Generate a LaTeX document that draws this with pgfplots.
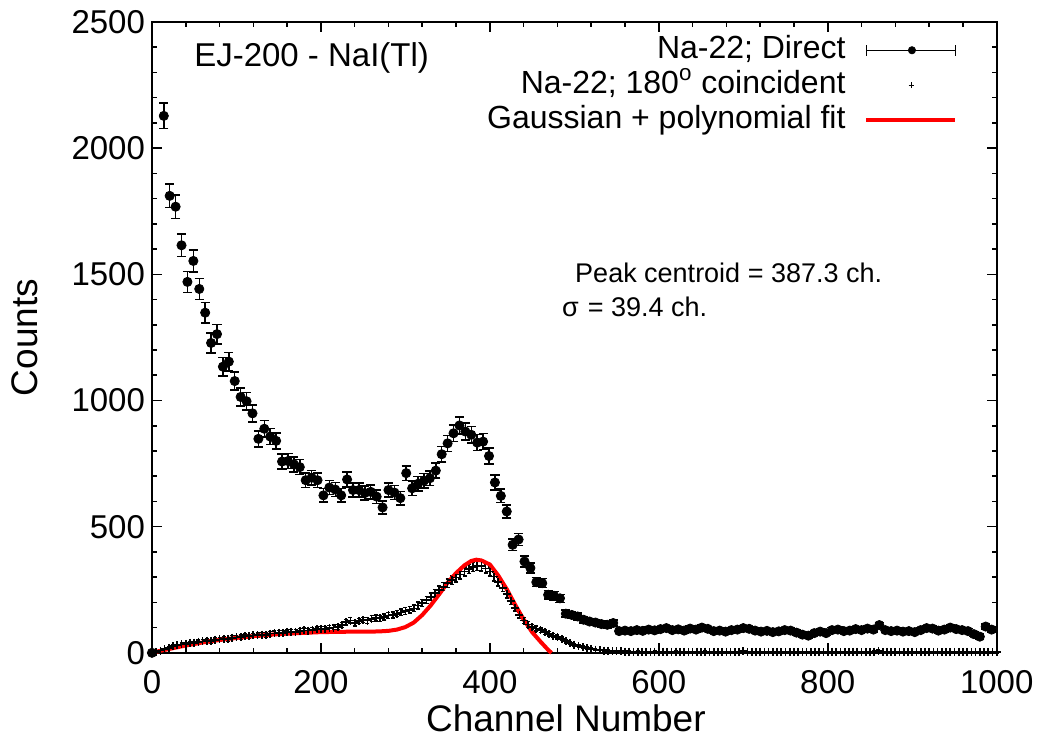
\documentclass[border=0pt]{standalone}
\usepackage{fontspec}
\setmainfont{Liberation Sans}
\usepackage{pgfplots}
\pgfplotsset{compat=1.18}
\usepackage{pgfplotstable}

\pgfplotstableread{
x y e
0 0 0
14 2128 51
21 1811 47
28 1768 46
35 1615 44
42 1470 42
49 1553 43
56 1442 42
63 1348 40
70 1228 39
77 1263 39
84 1134 37
91 1154 37
98 1077 36
105 1014 35
112 997 35
119 949 34
126 848 32
133 888 33
140 857 32
147 840 32
154 758 30
161 760 30
168 747 30
175 736 30
182 684 29
189 694 29
196 684 29
203 624 27
210 655 28
217 647 28
224 624 27
231 687 29
238 645 28
245 645 28
252 633 28
259 638 28
266 619 27
273 576 26
280 645 28
287 635 28
294 613 27
301 712 29
308 652 28
315 670 28
322 682 29
329 692 29
336 722 30
343 787 31
350 830 32
357 870 32
364 901 33
371 877 33
378 864 32
385 833 32
392 837 32
399 780 31
406 675 29
413 622 27
420 560 26
427 428 23
434 449 23
441 362 21
448 336 20
455 280 18
462 276 18
469 230 17
476 226 17
483 216 16
490 155 14
497 150 13
504 144 13
511 131 13
518 124 12
525 120 12
532 114 12
539 111 12
546 118 12
553 86 10
560 88 10
567 86 10
574 90 10
581 87 10
588 92 10
595 89 10
602 94 10
609 98 10
616 90 10
623 93 10
630 88 10
637 96 10
644 92 10
651 100 10
658 95 10
665 86 10
672 88 10
679 84 10
686 90 10
693 92 10
700 98 10
707 95 10
714 88 10
721 84 10
728 87 10
735 82 10
742 85 10
749 90 10
756 88 10
763 80 10
770 72 10
777 68 10
784 78 10
791 84 10
798 78 10
805 90 10
812 92 10
819 86 10
826 88 10
833 94 10
840 90 10
847 96 10
854 92 10
861 110 10
868 90 10
875 86 10
882 88 10
889 84 10
896 86 10
903 82 10
910 90 10
917 98 10
924 96 10
931 88 10
938 92 10
945 100 10
952 94 10
959 90 10
966 86 10
973 74 10
980 64 10
987 104 10
994 92 10
}\direct

\pgfplotstableread{
x y e
0 0 0
5 4 2
10 9 3
15 14 4
20 20 4
25 26 5
30 29 5
35 33 6
40 35 6
45 39 6
50 40 6
55 44 7
60 45 7
65 48 7
70 46 7
75 52 7
80 53 7
85 55 7
90 54 7
95 60 8
100 61 8
105 62 8
110 66 8
115 65 8
120 69 8
125 70 8
130 72 8
135 70 8
140 76 9
145 77 9
150 80 9
155 79 9
160 82 9
165 84 9
170 83 9
175 87 9
180 89 9
185 88 9
190 91 10
195 93 10
200 95 10
205 94 10
210 98 10
215 100 10
220 103 10
225 110 10
230 122 11
235 128 11
240 118 11
245 126 11
250 130 11
255 128 11
260 135 12
265 138 12
270 136 12
275 142 12
280 148 12
285 150 12
290 155 12
295 160 13
300 166 13
305 170 13
310 176 13
315 188 14
320 198 14
325 210 14
330 222 15
335 236 15
340 248 16
345 262 16
350 276 17
355 288 17
360 298 17
365 310 18
370 322 18
375 332 18
380 340 18
385 345 19
390 343 19
395 334 18
400 322 18
405 302 17
410 282 17
415 258 16
420 232 15
425 205 14
430 178 13
435 150 12
440 128 11
445 112 11
450 102 10
455 96 10
460 90 9
465 82 9
470 75 9
475 68 8
480 62 8
485 55 7
490 46 7
495 38 6
500 32 6
505 27 5
510 22 5
515 19 4
520 16 4
525 13 4
530 11 3
535 9 3
540 8 3
545 7 3
550 6 2
555 6 2
560 5 2
565 5 2
570 4 2
575 5 2
580 4 2
585 3 2
590 4 2
595 5 2
600 3 2
605 4 2
610 3 2
615 4 2
620 5 2
625 3 2
630 4 2
635 3 2
640 2 2
645 4 2
650 3 2
655 5 2
660 3 2
665 4 2
670 2 2
675 3 2
680 4 2
685 3 2
690 2 2
695 4 2
700 6 2
705 3 2
710 2 2
715 3 2
720 4 2
725 3 2
730 2 2
735 3 2
740 4 2
745 3 2
750 2 2
755 3 2
760 4 2
765 2 2
770 3 2
775 2 2
780 3 2
785 4 2
790 3 2
795 2 2
800 3 2
805 4 2
810 2 2
815 3 2
820 2 2
825 3 2
830 4 2
835 2 2
840 3 2
845 2 2
850 3 2
855 5 2
860 8 3
865 3 2
870 2 2
875 3 2
880 2 2
885 4 2
890 3 2
895 2 2
900 3 2
905 2 2
910 3 2
915 4 2
920 2 2
925 3 2
930 2 2
935 3 2
940 2 2
945 3 2
950 4 2
955 2 2
960 3 2
965 2 2
970 3 2
975 4 2
980 2 2
985 3 2
990 2 2
995 3 2
1000 2 2
}\coinc

\pgfplotstableread{
x y
0 0
10 8
20 15
30 22
40 29
50 35
60 41
70 46
80 51
90 55
100 59
120 66
140 72
160 76
180 79
200 82
220 83
240 84
260 84
270 85
280 87
290 92
300 102
310 120
320 150
330 188
340 232
350 278
360 316
370 347
378 364
384 369
390 366
400 350
410 306
420 252
430 190
440 132
450 82
460 44
470 8
473 0
}\fit

\begin{document}
\begin{tikzpicture}
\begin{axis}[
  name=ax,
  scale only axis,
  width=422.5bp, height=315.5bp,
  xmin=0, xmax=1000, ymin=0, ymax=2500,
  xtick={0,200,...,1000}, ytick={0,500,...,2500},
  minor x tick num=4, minor y tick num=4,
  tick align=inside,
  major tick length=5bp, minor tick length=2.5bp,
  axis line style={line width=1bp},
  every tick/.style={black, line width=0.8bp},
  /pgf/number format/assume math mode=true,
  /pgf/number format/1000 sep={},
  tick label style={font=\fontsize{16.5bp}{19bp}\selectfont},
  xticklabel style={yshift=-5.5bp},
  label style={font=\fontsize{18.5bp}{22bp}\selectfont},
  xlabel={Channel Number}, ylabel={Counts},
  xlabel style={at={(axis description cs:0.49,-0.103)}, anchor=center},
  ylabel style={at={(axis description cs:-0.1503,0.5)}, anchor=center},
  clip=false,
  legend style={at={(axis description cs:0.954,0.978)}, anchor=north east,
    draw=none, fill=none, inner sep=0pt, font=\fontsize{16bp}{18bp}\selectfont,
    nodes={inner sep=0pt, text height=11bp, text depth=3bp},
    row sep=3.5bp, column sep=9.5bp},
  legend cell align=right,
  legend plot pos=right,
]
\addplot[only marks, mark=*, mark size=2.3bp, black,
  legend image code/.code={
    \draw[black, line width=0.75bp] (0bp,0bp) -- (44.5bp,0bp);
    \draw[black, line width=0.75bp] (0bp,-2.7bp) -- (0bp,2.7bp) (44.5bp,-2.7bp) -- (44.5bp,2.7bp);
    \fill[black] (22.75bp,0bp) circle (1.8bp);},
  error bars/.cd, y dir=both, y explicit,
  error bar style={line width=0.75bp},
  error mark options={rotate=90, line width=0.75bp, mark size=2.3bp}]
  table[x=x, y=y, y error=e]{\direct};
\addlegendentry{Na-22; Direct}
\addplot[only marks, mark=+, mark size=2bp, black, mark options={line width=0.85bp},
  legend image code/.code={
    \path (0bp,0bp) (44.5bp,0bp);
    \draw[black, line width=0.5bp] (22.5bp,-1.4bp) -- (22.5bp,1.4bp) (21.1bp,0bp) -- (23.9bp,0bp);},
  error bars/.cd, y dir=both, y explicit,
  error bar style={line width=0.7bp},
  error mark options={rotate=90, line width=0.7bp, mark size=1bp}]
  table[x=x, y=y, y error=e]{\coinc};
\addlegendentry{Na-22; 180\textsuperscript{o} coincident}
\addplot[red, line width=2bp, no marks,
  legend image code/.code={\draw[red, line width=2bp] (0bp,0bp) -- (44.5bp,0bp);}]
  table[x=x, y=y]{\fit};
\addlegendentry{Gaussian + polynomial fit}

\node[font=\fontsize{16.5bp}{19bp}\selectfont, anchor=center] at (axis cs:189,2357) {EJ-200 - NaI(Tl)};
\node[font=\fontsize{13.5bp}{16bp}\selectfont, anchor=west, inner sep=0pt] at (axis cs:500.6,1506) {Peak centroid = 387.3 ch.};
\node[font=\fontsize{13.5bp}{16bp}\selectfont, anchor=west, inner sep=0pt] at (axis cs:485.2,1371) {σ\,\,= 39.4 ch.};
\end{axis}
\pgfresetboundingbox
\path ([shift={(-76bp,-42.5bp)}]ax.south west) rectangle ([shift={(24.65bp,11bp)}]ax.north east);
\end{tikzpicture}
\end{document}
